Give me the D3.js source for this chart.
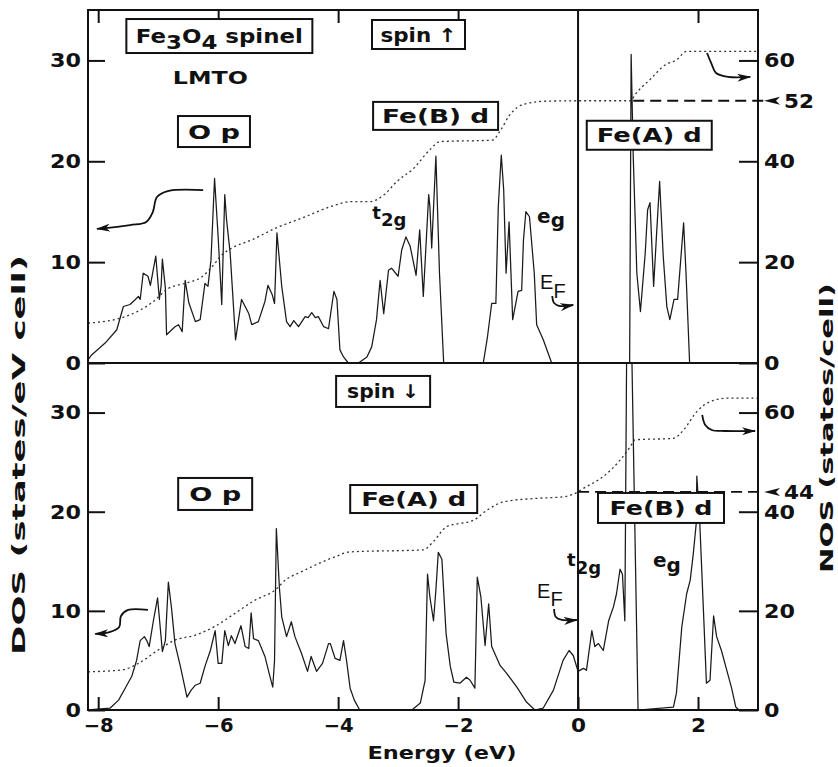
<!DOCTYPE html>
<html>
<head>
<meta charset="utf-8">
<script src="https://cdn.jsdelivr.net/npm/d3@7"></script>
<style>
body { margin: 0; background: #fff; }
text { font-family: "DejaVu Sans", sans-serif; font-weight: bold; fill: #111; }
</style>
</head>
<body>
<script>
// Fe3O4 spinel, LMTO DOS / NOS

// spin up DOS (states/eV cell)
var upE = [-8.17,-8.11,-7.88,-7.69,-7.58,-7.47,-7.38,-7.33,-7.3,-7.25,-7.17,-7.13,-7.04,-6.98,-6.95,-6.93,-6.88,-6.86,
  -6.72,-6.66,-6.6,-6.55,-6.49,-6.38,-6.3,-6.22,-6.17,-6.12,-6.06,-6.0,-5.94,-5.89,-5.86,-5.8,-5.71,-5.61,-5.49,-5.44,
  -5.33,-5.22,-5.17,-5.1,-5.06,-5.02,-4.94,-4.86,-4.8,-4.74,-4.66,-4.55,-4.5,-4.44,-4.38,-4.33,-4.24,-4.16,-4.1,-4.07,
  -4.02,-3.97,-3.91,-3.83,-3.66,-3.52,-3.44,-3.36,-3.3,-3.24,-3.16,-3.11,-3.0,-2.94,-2.87,-2.8,-2.7,-2.64,-2.58,-2.49,
  -2.47,-2.44,-2.37,-2.31,-2.24,-1.58,-1.51,-1.44,-1.37,-1.33,-1.28,-1.24,-1.2,-1.15,-1.09,-1.0,-0.94,-0.91,-0.87,-0.81,
  -0.73,-0.69,-0.58,-0.44,0.86,0.885,0.92,0.98,1.04,1.12,1.16,1.2,1.26,1.31,1.36,1.42,1.48,1.53,1.6,1.66,1.76,1.8,1.86,3.0];
var upDos = [0.3,0.8,2.0,3.3,5.6,5.8,6.3,6.6,6.3,8.9,8.6,7.7,10.6,6.3,7.7,10.3,7.4,2.8,
  3.6,3.8,3.1,8.2,6.0,4.1,4.3,7.9,7.6,10.2,18.3,12.5,5.8,16.7,14.2,10.9,2.3,6.3,4.9,3.8,
  4.1,6.1,7.7,6.8,5.9,12.9,7.6,4.1,3.6,4.2,3.6,4.6,4.5,5.0,4.5,4.6,3.6,3.4,5.9,7.1,
  6.3,1.3,0.6,0,0,0.6,1.6,4.3,8.2,4.9,9.2,9.4,8.6,11.2,12.5,11.6,8.7,13.2,6.6,16.7,
  15.5,11.4,20.5,8.9,0,0,2.6,5.9,5.9,15.5,20.6,17.2,8.9,14.0,4.3,7.1,7.2,12.2,15.0,14.5,
  8.9,3.8,2.3,0,0,30.6,20.5,8.9,5.1,10.9,15.2,15.9,7.6,12.9,18.0,10.6,5.6,4.3,6.3,6.3,13.9,8.9,0,0];

// spin up NOS (states/cell)
var upNosE = [-8.17,-7.55,-7.1,-6.83,-6.55,-6.27,-6.1,-5.94,-5.77,-5.44,-5.05,-4.61,-4.05,-3.8,-3.47,-3.24,-3.02,
  -2.74,-2.47,-2.3,-1.43,-1.3,-1.15,-1.0,-0.8,-0.57,0.0,0.88,0.95,1.2,1.45,1.64,1.81,3.0];
var upNos = [7.9,9.2,12.0,14.8,15.8,17.1,19.1,21.4,22.8,24.4,26.7,28.7,31.3,32.0,32.0,33.3,36.0,
  38.6,42.3,43.9,44.2,46.0,49.0,50.8,51.6,51.9,52.0,52.0,53.2,56.2,59.1,60.1,61.8,61.8];

// spin down DOS
var dnE = [-8.17,-7.8,-7.66,-7.55,-7.44,-7.36,-7.3,-7.23,-7.19,-7.15,-7.08,-7.01,-6.93,-6.88,-6.83,-6.78,-6.72,-6.63,
  -6.52,-6.45,-6.38,-6.3,-6.22,-6.13,-6.05,-6.0,-5.94,-5.89,-5.83,-5.78,-5.72,-5.62,-5.55,-5.49,-5.45,-5.41,-5.33,-5.22,
  -5.15,-5.09,-5.06,-5.03,-4.98,-4.94,-4.86,-4.78,-4.72,-4.61,-4.51,-4.45,-4.36,-4.26,-4.16,-4.13,-4.05,-3.97,-3.91,
  -3.86,-3.8,-3.73,-3.64,-2.77,-2.63,-2.55,-2.51,-2.47,-2.41,-2.37,-2.33,-2.27,-2.2,-2.13,-2.07,-1.97,-1.86,-1.8,-1.72,
  -1.68,-1.62,-1.55,-1.49,-1.44,-1.3,-1.19,-1.02,-0.86,-0.72,-0.58,-0.41,-0.25,-0.15,-0.08,0.0,0.09,0.14,0.23,0.28,0.34,
  0.42,0.51,0.59,0.64,0.7,0.74,0.78,0.82,0.87,1.0,1.59,1.64,1.73,1.81,1.87,1.92,1.97,1.98,2.03,2.09,2.14,2.2,2.26,2.31,
  2.39,2.48,2.56,2.63,2.68,3.0];
var dnDos = [0,0.2,1.0,2.2,3.4,5.0,7.0,7.4,7.0,6.4,9.0,11.3,5.9,7.0,12.9,10.4,6.7,4.4,
  1.3,2.0,2.5,2.7,4.4,6.0,8.0,4.7,4.7,8.0,6.5,7.5,6.7,8.5,6.4,6.2,9.8,7.2,7.0,5.4,
  3.7,2.3,5.0,18.3,12.4,9.4,7.4,8.9,7.4,5.7,3.9,5.4,3.9,4.7,6.7,6.7,5.2,5.0,7.0,
  5.0,2.2,1.0,0,0,0.7,3.0,13.7,11.4,9.0,12.1,15.9,15.2,7.7,4.4,2.8,2.7,3.3,3.0,2.2,
  13.4,11.4,6.5,10.7,6.4,4.5,3.7,2.3,0.8,0,0.2,2.0,5.0,6.0,5.5,3.9,4.2,4.0,8.0,6.4,6.7,
  6.0,9.0,10.4,11.7,14.2,13.7,9.0,45,45,0,0.3,1.7,8.4,11.7,13.1,15.7,18.8,23.6,18.8,10.1,2.7,3.0,9.5,7.4,
  6.0,4.0,2.2,0.3,0,0];

// spin down NOS
var dnNosE = [-8.17,-7.6,-7.33,-7.0,-6.72,-6.38,-6.05,-5.72,-5.38,-5.05,-4.88,-4.61,-4.05,-3.8,-2.58,-2.41,-2.19,
  -1.74,-1.52,-1.24,-0.69,-0.25,0.0,0.09,0.42,0.7,0.87,0.95,1.59,1.76,1.98,2.2,2.48,3.0];
var dnNos = [7.7,8.1,9.4,12.1,14.1,15.1,16.9,19.5,22.2,24.2,26.2,27.9,30.9,31.9,32.3,34.0,37.0,
  38.3,40.3,42.0,42.7,43.0,44.0,44.7,47.1,50.4,53.1,54.5,54.8,56.5,60.2,62.2,62.9,62.9];

var energyTicks = [-8, -6, -4, -2, 0, 2];
var topTicks = [-8, -6, -4, -2, 2];
var dosTicks = [0, 10, 20, 30];
var nosTicks = [0, 20, 40, 60];
var efNos = [52, 44];

var width = 838, height = 767;
var svg = d3.select("body").append("svg")
  .attr("width", width)
  .attr("height", height);

var x = d3.scaleLinear().domain([-8.17, 3.0]).range([88, 758]);

var defs = svg.append("defs");
defs.append("marker")
  .attr("id", "ah")
  .attr("viewBox", "0 0 14 8")
  .attr("refX", 13).attr("refY", 4)
  .attr("markerWidth", 14).attr("markerHeight", 8)
  .attr("markerUnits", "userSpaceOnUse")
  .attr("orient", "auto")
  .append("path")
  .attr("d", "M0,0 L14,4 L0,8 L4,4 Z")
  .attr("fill", "#111");

var panels = [
  { id: "up", top: 10, bottom: 363, E: upE, dos: upDos, nE: upNosE, nos: upNos, ef: efNos[0], efFrom: 0.92 },
  { id: "dn", top: 363, bottom: 710, E: dnE, dos: dnDos, nE: dnNosE, nos: dnNos, ef: efNos[1], efFrom: 0 }
];

panels.forEach(function(p) {
  p.y = d3.scaleLinear().domain([0, 35]).range([p.bottom, p.top]);
  p.yn = d3.scaleLinear().domain([0, 70]).range([p.bottom, p.top]);
  defs.append("clipPath").attr("id", "clip-" + p.id)
    .append("rect")
    .attr("x", x.range()[0]).attr("y", p.top)
    .attr("width", x.range()[1] - x.range()[0]).attr("height", p.bottom - p.top);
});

var smooth = d3.line().curve(d3.curveCatmullRom.alpha(0.5));

panels.forEach(function(p) {
  var g = svg.append("g");
  var dosLine = d3.line()
    .x(function(d, i) { return x(p.E[i]); })
    .y(function(d) { return p.y(d); });
  g.append("path")
    .attr("clip-path", "url(#clip-" + p.id + ")")
    .attr("d", dosLine(p.dos))
    .attr("fill", "none")
    .attr("stroke", "#1a1a1a")
    .attr("stroke-width", 1.25)
    .attr("stroke-linejoin", "round");

  var nosLine = d3.line()
    .curve(d3.curveMonotoneX)
    .x(function(d, i) { return x(p.nE[i]); })
    .y(function(d) { return p.yn(d); });
  g.append("path")
    .attr("d", nosLine(p.nos))
    .attr("fill", "none")
    .attr("stroke", "#333")
    .attr("stroke-width", 1.3)
    .attr("stroke-dasharray", "2,3");

  // NOS at E_F, dashed out to the right axis
  var yef = p.yn(p.ef);
  g.append("line")
    .attr("x1", x(p.efFrom)).attr("x2", x.range()[1] + 6)
    .attr("y1", yef).attr("y2", yef)
    .attr("stroke", "#111").attr("stroke-width", 1.8)
    .attr("stroke-dasharray", "11,6");
  var tip = x.range()[1] + 6;
  g.append("path")
    .attr("d", "M" + tip + "," + yef + " L" + (tip + 16) + "," + (yef - 4) + " L" + (tip + 12) + "," + yef + " L" + (tip + 16) + "," + (yef + 4) + "Z")
    .attr("fill", "#111");
  g.append("text")
    .attr("x", tip + 20).attr("y", yef + 7)
    .style("font-size", "20px")
    .attr("textLength", 30).attr("lengthAdjust", "spacingAndGlyphs")
    .text(p.ef);

  // axes
  var gl = g.append("g").attr("transform", "translate(" + x.range()[0] + ",0)")
    .call(d3.axisLeft(p.y).tickValues(dosTicks).tickSize(-17).tickPadding(7));
  var gr = g.append("g").attr("transform", "translate(" + x.range()[1] + ",0)")
    .call(d3.axisRight(p.yn).tickValues(nosTicks).tickSize(-19).tickPadding(6));
  [gl, gr].forEach(function(a) {
    a.select(".domain").remove();
    a.selectAll(".tick line").attr("stroke", "#111").attr("stroke-width", 2);
    a.selectAll(".tick text").style("font-size", "20px").attr("fill", "#111")
      .attr("textLength", function(d) { return String(d).length * 15.5; })
      .attr("lengthAdjust", "spacingAndGlyphs");
  });

  // frame
  g.append("rect")
    .attr("x", x.range()[0]).attr("y", p.top)
    .attr("width", x.range()[1] - x.range()[0]).attr("height", p.bottom - p.top)
    .attr("fill", "none").attr("stroke", "#111").attr("stroke-width", 2);
  g.append("line")
    .attr("x1", x(0)).attr("x2", x(0))
    .attr("y1", p.top).attr("y2", p.bottom)
    .attr("stroke", "#111").attr("stroke-width", 2);
});

var pu = panels[0], pd = panels[1];

// top edge ticks
var gt = svg.append("g").attr("transform", "translate(0," + pu.top + ")")
  .call(d3.axisTop(x).tickValues(topTicks).tickSize(-13).tickFormat(""));
gt.select(".domain").remove();
gt.selectAll(".tick line").attr("stroke", "#111").attr("stroke-width", 2);

// energy axis
var gb = svg.append("g").attr("transform", "translate(0," + pd.bottom + ")")
  .call(d3.axisBottom(x).tickValues(energyTicks).tickSize(-13).tickPadding(9));
gb.select(".domain").remove();
gb.selectAll(".tick line").attr("stroke", "#111").attr("stroke-width", 2);
gb.selectAll(".tick text").style("font-size", "19px").attr("fill", "#111")
  .attr("textLength", function(d) { return d < 0 ? 30 : 15; })
  .attr("lengthAdjust", "spacingAndGlyphs");

// boxed labels
function box(p, e, v, w, h, tw, parts, fs) {
  var cx = x(e), cy = p.y(v);
  svg.append("rect")
    .attr("x", cx - w / 2).attr("y", cy - h / 2)
    .attr("width", w).attr("height", h)
    .attr("fill", "#fff").attr("stroke", "#111").attr("stroke-width", 2);
  var t = svg.append("text")
    .attr("x", cx).attr("y", cy + 7)
    .attr("text-anchor", "middle")
    .style("font-size", (fs || 19) + "px")
    .attr("textLength", tw).attr("lengthAdjust", "spacingAndGlyphs");
  parts.forEach(function(s) {
    t.append("tspan").attr("dy", s[1]).text(s[0]);
  });
}

box(pu, -5.98, 32.42, 186, 34, 167, [["Fe", 0], ["3", 6], ["O", -6], ["4", 6], [" spinel", -6]], 20);
box(pu, -2.66, 32.57, 93, 29, 76, [["spin \u2191", 0]]);
box(pu, -6.07, 22.95, 72, 31, 52, [["O  p", 0]]);
box(pu, -2.375, 24.5, 125, 28, 107, [["Fe(B)  d", 0]]);
box(pu, 1.187, 22.58, 125, 29, 105, [["Fe(A)  d", 0]]);

box(pd, -3.25, 32.13, 94, 31, 72, [["spin \u2193", 0]]);
box(pd, -6.05, 21.79, 74, 32, 52, [["O  p", 0]]);
box(pd, -2.74, 21.28, 127, 28, 105, [["Fe(A)  d", 0]]);
box(pd, 1.383, 20.38, 126, 30, 103, [["Fe(B)  d", 0]]);

svg.append("text")
  .attr("x", x(-6.13)).attr("y", pu.y(27.7))
  .attr("text-anchor", "middle")
  .style("font-size", "17px")
  .attr("textLength", 75).attr("lengthAdjust", "spacingAndGlyphs")
  .text("LMTO");

// orbital labels
function subLabel(p, e, v, main, sub, dy, fs, weight) {
  var t = svg.append("text")
    .attr("x", x(e)).attr("y", p.y(v))
    .style("font-size", fs + "px")
    .style("font-weight", weight || "bold");
  t.append("tspan").text(main);
  t.append("tspan").attr("dy", dy).text(sub);
  return t;
}
subLabel(pu, -3.43, 14.3, "t", "2g", 7, 18);
subLabel(pu, -0.683, 13.88, "e", "g", 4, 20);
subLabel(pd, -0.183, 14.52, "t", "2g", 8, 18);
subLabel(pd, 1.25, 14.42, "e", "g", 5, 20);
subLabel(pu, -0.633, 7.34, "E", "F", 9, 20, "normal").style("font-family", "'Liberation Sans', sans-serif");
subLabel(pd, -0.683, 11.3, "E", "F", 8, 20, "normal").style("font-family", "'Liberation Sans', sans-serif");

// curly arrows, points in (energy, value)
var arrows = [
  [pu, [[-6.25, 17.15], [-6.84, 17.05], [-7.02, 16.46], [-7.09, 14.97], [-7.2, 13.98], [-7.47, 13.68], [-8.02, 13.29]]],
  [pu, [[2.15, 30.74], [2.22, 29.74], [2.3, 28.75], [2.5, 28.36], [2.87, 28.36]]],
  [pd, [[-7.17, 10.09], [-7.5, 10.09], [-7.62, 9.48], [-7.65, 8.37], [-7.8, 7.87], [-8.05, 7.67]]],
  [pd, [[2.07, 29.76], [2.12, 28.75], [2.23, 28.24], [2.45, 28.14], [2.95, 28.14]]],
  [pu, [[-0.43, 6.64], [-0.4, 5.95], [-0.3, 5.65], [-0.08, 5.75]]],
  [pd, [[-0.4, 10.19], [-0.37, 9.38], [-0.27, 9.08], [-0.02, 9.08]]]
];
arrows.forEach(function(a) {
  var p = a[0];
  svg.append("path")
    .attr("d", smooth(a[1].map(function(q) { return [x(q[0]), p.y(q[1])]; })))
    .attr("fill", "none")
    .attr("stroke", "#111")
    .attr("stroke-width", 1.8)
    .attr("marker-end", "url(#ah)");
});

// axis titles
svg.append("text")
  .attr("transform", "translate(25,455) rotate(-90)")
  .attr("text-anchor", "middle")
  .style("font-size", "17px")
  .attr("textLength", 400).attr("lengthAdjust", "spacingAndGlyphs")
  .text("DOS (states/eV cell)");
svg.append("text")
  .attr("transform", "translate(833,428) rotate(-90)")
  .attr("text-anchor", "middle")
  .style("font-size", "17px")
  .attr("textLength", 290).attr("lengthAdjust", "spacingAndGlyphs")
  .text("NOS (states/cell)");
svg.append("text")
  .attr("x", 442).attr("y", 759)
  .attr("text-anchor", "middle")
  .style("font-size", "17px")
  .attr("textLength", 149).attr("lengthAdjust", "spacingAndGlyphs")
  .text("Energy (eV)");
</script>
</body>
</html>
